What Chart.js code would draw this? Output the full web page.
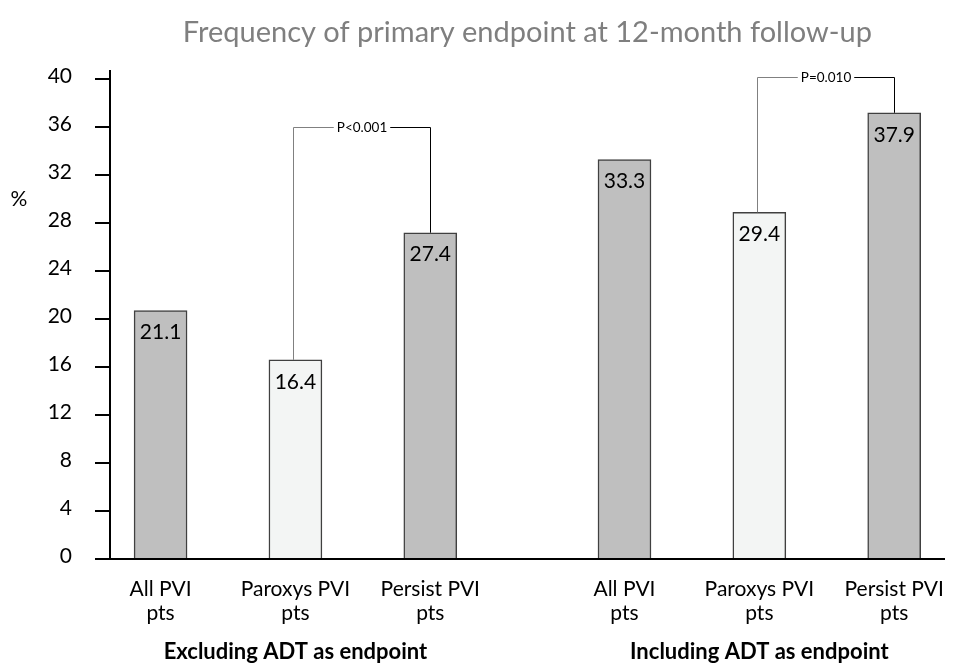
<!DOCTYPE html>
<html>
<head>
<meta charset="utf-8">
<script src="https://cdn.jsdelivr.net/npm/chart.js@4.4.0/dist/chart.umd.min.js"></script>
<style>
  html, body { margin: 0; padding: 0; background: #fff; }
  #wrap { width: 963px; height: 666px; }
</style>
</head>
<body>
<div id="wrap"><canvas id="chart" width="963" height="666"></canvas></div>
<script>
// --- data ---
const titleText = 'Frequency of primary endpoint at 12-month follow-up';
const groupNames = ['Excluding ADT as endpoint', 'Including ADT as endpoint'];
const categoryLabels = [['All PVI', 'pts'], ['Paroxys PVI', 'pts'], ['Persist PVI', 'pts']];
const barValues = [20.7, 16.6, 27.2, 33.3, 28.9, 37.2];      // bar heights as drawn
const valueLabels = ['21.1', '16.4', '27.4', '33.3', '29.4', '37.9'];
const yTicks = [0, 4, 8, 12, 16, 20, 24, 28, 32, 36, 40];
const pTexts = ['P<0.001', 'P=0.010'];
const pPairs = [[1, 2], [4, 5]];   // bar indexes joined by each bracket
const pLevels = [36, 40.2];        // bracket height in %

// --- layout / style ---
const FONT = 'Lato, "Open Sans", sans-serif';
const GROUP_GAP = 0.44;            // extra space between the two groups, in bar slots
const barColors = ['#bfbfbf', '#f3f5f4', '#bfbfbf'];
const perGroup = categoryLabels.length;

function barPosition(i) {
    const g = Math.floor(i / perGroup);
    return g * (perGroup + GROUP_GAP) + (i % perGroup);
}
const positions = barValues.map((v, i) => barPosition(i));

const annotations = {
    id: 'annotations',
    afterDatasetsDraw(chart) {
        const { ctx, scales: { x, y }, chartArea } = chart;
        const bars = chart.getDatasetMeta(0).data;
        ctx.save();

        // value labels inside bar tops
        ctx.fillStyle = '#000';
        ctx.textAlign = 'center';
        ctx.textBaseline = 'middle';
        ctx.font = '21px ' + FONT;
        bars.forEach((b, i) => ctx.fillText(valueLabels[i], b.x, b.y + 22));

        // significance brackets
        ctx.font = '13.5px ' + FONT;
        ctx.lineWidth = 1;
        pPairs.forEach(([a, b], k) => {
            const xa = Math.round(bars[a].x - 2) + 0.5;
            const xb = Math.round(bars[b].x) + 0.5;
            const yl = Math.round(y.getPixelForValue(pLevels[k])) + 0.5;
            const tx = (xa + xb) / 2;
            const w = ctx.measureText(pTexts[k]).width;
            ctx.strokeStyle = '#808080';
            ctx.beginPath();
            ctx.moveTo(xa, bars[a].y);
            ctx.lineTo(xa, yl);
            ctx.lineTo(tx - w / 2 - 3, yl);
            ctx.stroke();
            ctx.strokeStyle = '#000';
            ctx.beginPath();
            ctx.moveTo(tx + w / 2 + 3, yl);
            ctx.lineTo(xb, yl);
            ctx.lineTo(xb, bars[b].y);
            ctx.stroke();
            ctx.fillText(pTexts[k], tx, yl);
        });

        // axis unit
        ctx.font = '21px ' + FONT;
        ctx.fillText('%', 19, y.getPixelForValue(30));

        // group names under the category labels
        ctx.font = 'bold 22px ' + FONT;
        ctx.textBaseline = 'alphabetic';
        groupNames.forEach((name, g) => {
            const mid = barPosition(g * perGroup + 1);
            ctx.fillText(name, x.getPixelForValue(mid), chartArea.bottom + 100);
        });
        ctx.restore();
    }
};

new Chart(document.getElementById('chart'), {
    type: 'bar',
    data: {
        datasets: [{
            data: barValues.map((v, i) => ({ x: positions[i], y: v })),
            backgroundColor: barValues.map((v, i) => barColors[i % perGroup]),
            borderColor: '#404040',
            borderWidth: 1.5,
            barThickness: 53
        }]
    },
    options: {
        responsive: false,
        animation: false,
        layout: { padding: { left: 0, right: 11, top: 0, bottom: 0 } },
        plugins: {
            legend: { display: false },
            tooltip: { enabled: false },
            title: {
                display: true,
                fullSize: false,
                text: titleText,
                color: '#7f7f7f',
                font: { family: FONT, size: 29, weight: 'normal', lineHeight: 1.2 },
                padding: { top: 15, bottom: 21 }
            }
        },
        scales: {
            x: {
                type: 'linear',
                offset: false,
                min: positions[0] - 0.375,
                max: positions[positions.length - 1] + 0.375,
                grid: { display: false, drawTicks: false },
                border: { display: true, color: '#000', width: 2 },
                ticks: {
                    color: '#000',
                    font: { family: FONT, size: 21, lineHeight: 1.15 },
                    padding: 18,
                    autoSkip: false,
                    maxRotation: 0,
                    callback: (value, index) => categoryLabels[index % perGroup]
                },
                afterBuildTicks: scale => { scale.ticks = positions.map(v => ({ value: v })); },
                afterFit: scale => { scale.height = 107; }
            },
            y: {
                min: 0,
                max: 40.7,
                grid: { drawOnChartArea: false, color: '#000', lineWidth: 2, tickLength: 15 },
                border: { color: '#000', width: 2 },
                ticks: {
                    color: '#000',
                    font: { family: FONT, size: 21 },
                    padding: 23,
                    labelOffset: -3
                },
                afterBuildTicks: scale => { scale.ticks = yTicks.map(v => ({ value: v })); },
                afterFit: scale => { scale.width = 110; }
            }
        }
    },
    plugins: [annotations]
});
</script>
</body>
</html>
